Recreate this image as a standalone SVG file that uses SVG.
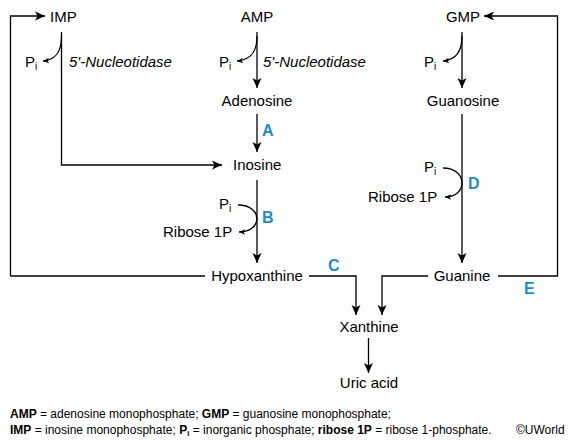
<svg xmlns="http://www.w3.org/2000/svg" width="568" height="440" viewBox="0 0 568 440">
<style>
text{font-family:"Liberation Sans",Arial,sans-serif;fill:#000}
.n{font-size:15px;text-anchor:middle}
.l{font-size:15px}
.it{font-size:15px;font-style:italic}
.e{font-size:16px;font-weight:bold;fill:#1b8bd0}
.f{font-size:12px}
.b{font-weight:bold}
.c{fill:none;stroke:#000;stroke-width:1.3}
</style>
<defs>
<marker id="ah" markerUnits="userSpaceOnUse" markerWidth="10" markerHeight="10" viewBox="0 0 10 10" refX="10" refY="5" orient="auto">
<path d="M0,0.5 L10,5 L0,9.5 L2.5,5 Z" fill="#000"/>
</marker>
<marker id="sh" markerUnits="userSpaceOnUse" markerWidth="6" markerHeight="6" viewBox="0 0 10 10" refX="10" refY="5" orient="auto">
<path d="M0,0.5 L10,5 L0,9.5 L2.5,5 Z" fill="#000"/>
</marker>
</defs>
<rect width="568" height="440" fill="#fff"/>
<g id="connectors">
<path class="c" d="M10.5,276 V16 H45" marker-end="url(#ah)"/>
<path class="c" d="M61.5,32 V165 H222" marker-end="url(#ah)"/>
<path class="c" d="M61.5,36 C61.5,52 56,60 43,61" marker-end="url(#sh)"/>
<path class="c" d="M257,32 V88" marker-end="url(#ah)"/>
<path class="c" d="M257,36 C257,52 251,60 237,61" marker-end="url(#sh)"/>
<path class="c" d="M257,114 V152" marker-end="url(#ah)"/>
<path class="c" d="M257,180 V263" marker-end="url(#ah)"/>
<path class="c" d="M238,205 C263,205 263,232 239,232" marker-end="url(#sh)"/>
<path class="c" d="M462,32 V88" marker-end="url(#ah)"/>
<path class="c" d="M462,36 C462,52 456,60 443,61" marker-end="url(#sh)"/>
<path class="c" d="M462,114 V263" marker-end="url(#ah)"/>
<path class="c" d="M443,168 C468,168 468,197 445,197" marker-end="url(#sh)"/>
<path class="c" d="M10.5,276 H205"/>
<path class="c" d="M309,276 H356 V315" marker-end="url(#ah)"/>
<path class="c" d="M428,276 H382 V315" marker-end="url(#ah)"/>
<path class="c" d="M498,276 H557.5 V16 H484" marker-end="url(#ah)"/>
<path class="c" d="M368.5,338 V373" marker-end="url(#ah)"/>
</g>
<g id="IMP"><text class="l" x="50" y="22">IMP</text></g>
<g id="AMP"><text class="n" x="257" y="22">AMP</text></g>
<g id="GMP"><text class="n" x="463" y="22">GMP</text></g>
<g id="Pi1"><text class="l" x="25" y="67">P<tspan font-size="10" dy="3">i</tspan></text></g>
<g id="Pi2"><text class="l" x="219" y="67">P<tspan font-size="10" dy="3">i</tspan></text></g>
<g id="Pi3"><text class="l" x="424" y="67">P<tspan font-size="10" dy="3">i</tspan></text></g>
<g id="enz1"><text class="it" x="69" y="67">5'-Nucleotidase</text></g>
<g id="enz2"><text class="it" x="263" y="67">5'-Nucleotidase</text></g>
<g id="Adenosine"><text class="n" x="257" y="106">Adenosine</text></g>
<g id="Guanosine"><text class="n" x="463" y="106">Guanosine</text></g>
<g id="A"><text class="e" x="262" y="136">A</text></g>
<g id="Inosine"><text class="l" x="233" y="170">Inosine</text></g>
<g id="PiB"><text class="l" x="219" y="209">P<tspan font-size="10" dy="3">i</tspan></text></g>
<g id="RiboseB"><text class="l" x="163" y="237">Ribose 1P</text></g>
<g id="B"><text class="e" x="262" y="223">B</text></g>
<g id="PiD"><text class="l" x="424" y="172">P<tspan font-size="10" dy="3">i</tspan></text></g>
<g id="RiboseD"><text class="l" x="368" y="202">Ribose 1P</text></g>
<g id="D"><text class="e" x="468" y="189">D</text></g>
<g id="Hypoxanthine"><text class="n" x="257" y="281">Hypoxanthine</text></g>
<g id="Guanine"><text class="n" x="462" y="281">Guanine</text></g>
<g id="C"><text class="e" x="328" y="271">C</text></g>
<g id="E"><text class="e" x="524" y="294">E</text></g>
<g id="Xanthine"><text class="n" x="369" y="332">Xanthine</text></g>
<g id="UricAcid"><text class="n" x="369" y="388">Uric acid</text></g>
<g id="legend">
<text class="f" x="10" y="418"><tspan class="b">AMP</tspan> = adenosine monophosphate; <tspan class="b">GMP</tspan> = guanosine monophosphate;</text>
<text class="f" x="10" y="434"><tspan class="b">IMP</tspan> = inosine monophosphate; <tspan class="b">P<tspan font-size="8" dy="2">i</tspan></tspan><tspan dy="-2"> = inorganic phosphate; </tspan><tspan class="b">ribose 1P</tspan> = ribose 1-phosphate.</text>
<text class="f" x="516" y="434" font-size="10.5px">©UWorld</text>
</g>
</svg>
